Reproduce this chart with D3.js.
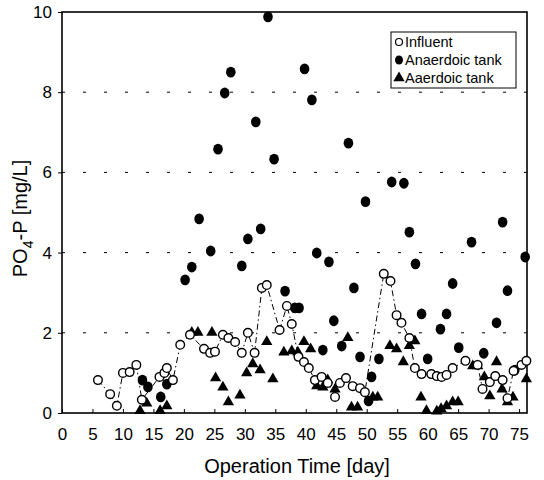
<!DOCTYPE html>
<html lang="en">
<head>
    <script src="https://d3js.org/d3.v7.min.js"></script>
    <style>
        body { margin: 0; background: #fff; }
        text { font-family: "Liberation Sans", Arial, sans-serif; fill: #000; }
    </style>
</head>
<body>
    <svg></svg>
    <script>
        // tick labels
        const xTicks = [0, 5, 10, 15, 20, 25, 30, 35, 40, 45, 50, 55, 60, 65, 70, 75]
        const yTicks = [0, 2, 4, 6, 8, 10]
        const gridLines = [2, 4, 6, 8]
        const legendLabels = ['Influent', 'Anaerdoic tank', 'Aaerdoic tank']

        // influent (open circles, dash-dot line) [day, mg/L]
        const influentDay = [5.9, 7.9, 9.0, 10.0, 11.1, 12.2, 13.1, 16.0, 16.8, 17.2, 18.2, 19.4, 21.0,
            23.3, 24.3, 25.1, 26.4, 27.3, 28.4, 29.5, 30.5, 31.6, 32.8, 33.6, 35.7, 36.9, 37.7,
            38.8, 39.7, 40.5, 41.5, 42.6, 43.6, 44.8, 45.6, 46.6, 47.7, 48.9, 49.7, 52.8, 53.9,
            54.9, 55.7, 57.0, 57.9, 59.0, 60.6, 61.5, 62.3, 63.1, 64.1, 66.2, 68.2, 69.0, 70.2,
            71.1, 72.3, 73.1, 74.1, 75.4, 76.2]
        const influentVal = [0.82, 0.47, 0.18, 1.00, 1.02, 1.20, 0.33, 0.90, 1.00, 1.12, 0.82, 1.70, 1.95,
            1.60, 1.50, 1.53, 1.95, 1.87, 1.77, 1.50, 2.00, 1.50, 3.12, 3.19, 2.07, 2.67, 2.22,
            1.40, 1.27, 1.12, 0.82, 0.90, 0.75, 0.40, 0.75, 0.87, 0.67, 0.62, 0.52, 3.47, 3.29,
            2.44, 2.25, 1.87, 1.12, 0.97, 0.97, 0.92, 0.90, 0.95, 1.12, 1.30, 1.20, 0.60, 0.77,
            0.92, 0.82, 0.37, 1.05, 1.20, 1.30]

        // anaerobic tank (filled circles)
        const anaerobicDay = [13.2, 14.1, 16.2, 17.2, 20.2, 21.3, 22.5, 24.4, 25.6, 26.7, 27.7, 29.5,
            30.5, 31.8, 32.6, 33.8, 34.8, 36.6, 38.2, 38.9, 39.8, 41.0, 41.8, 42.8, 43.8, 44.6,
            45.9, 47.0, 47.9, 48.9, 49.8, 50.3, 50.8, 52.0, 54.1, 56.1, 57.0, 58.0, 59.0, 60.0,
            62.1, 63.1, 64.1, 65.1, 67.2, 69.2, 71.3, 72.3, 73.1, 74.3, 76.0]
        const anaerobicVal = [0.82, 0.65, 0.40, 0.72, 3.32, 3.64, 4.84, 4.04, 6.58, 7.98, 8.50, 3.67,
            4.34, 7.26, 4.59, 9.88, 6.33, 3.04, 2.62, 2.62, 8.58, 7.81, 3.99, 1.57, 3.77, 2.30,
            1.67, 6.73, 3.12, 1.40, 5.27, 0.30, 0.90, 1.35, 5.76, 5.73, 4.51, 3.72, 2.47, 1.35,
            2.09, 2.47, 3.23, 1.63, 4.26, 1.49, 2.25, 4.76, 3.05, 1.07, 3.89]

        // aerobic tank (filled triangles)
        const aerobicDay = [12.8, 13.9, 16.1, 17.2, 21.3, 22.3, 24.6, 25.2, 26.4, 27.3, 29.2, 30.3,
            31.3, 32.5, 33.6, 34.6, 36.4, 37.7, 38.7, 39.7, 40.8, 41.8, 42.8, 43.6, 44.8, 46.9,
            47.5, 48.5, 51.0, 51.8, 53.8, 54.9, 56.0, 57.0, 57.9, 58.9, 59.8, 61.5, 62.2, 63.1,
            64.1, 65.0, 67.4, 68.2, 69.3, 70.2, 71.3, 72.2, 73.1, 74.0, 76.2]
        const aerobicVal = [0.03, 0.22, 0.03, 0.15, 1.98, 1.98, 1.98, 0.85, 0.62, 0.25, 0.42, 0.97,
            1.20, 1.05, 1.75, 0.82, 1.49, 1.52, 1.49, 1.75, 1.57, 0.65, 0.62, 0.80, 0.57, 1.85,
            0.12, 0.12, 0.37, 0.37, 1.65, 1.57, 1.25, 1.65, 1.77, 0.37, 0.03, 0.02, 0.08, 0.15,
            0.25, 0.25, 1.15, 1.15, 0.87, 0.40, 1.25, 0.57, 0.25, 0.37, 0.82]

        const W = 544, H = 480
        const margin = { left: 62, right: 17, top: 12, bottom: 67 }

        const svg = d3.select('svg')
            .attr('width', W)
            .attr('height', H)

        const x = d3.scaleLinear()
            .domain([0, 76.3])
            .range([margin.left, W - margin.right])
        const y = d3.scaleLinear()
            .domain([0, 10])
            .range([H - margin.bottom, margin.top])

        const zip = (a, b) => a.map((d, i) => [d, b[i]])
        const influent = zip(influentDay, influentVal)
        const anaerobic = zip(anaerobicDay, anaerobicVal)
        const aerobic = zip(aerobicDay, aerobicVal)

        // dashed grid
        svg.append('g')
            .selectAll('line')
            .data(gridLines)
            .enter()
            .append('line')
            .attr('x1', x(0))
            .attr('x2', x.range()[1])
            .attr('y1', d => y(d))
            .attr('y2', d => y(d))
            .attr('stroke', '#000')
            .attr('stroke-width', 1)
            .attr('stroke-dasharray', '3,18')

        // axes
        svg.append('g')
            .attr('transform', `translate(0,${y(0)})`)
            .call(d3.axisBottom(x).tickValues(xTicks).tickSize(-4).tickPadding(15))
            .call(g => g.select('.domain').remove())
            .call(g => g.selectAll('text').attr('font-size', 17))

        svg.append('g')
            .attr('transform', `translate(${x(0)},0)`)
            .call(d3.axisLeft(y).tickValues(yTicks).tickSize(4).tickPadding(6))
            .call(g => g.select('.domain').remove())
            .call(g => g.selectAll('text').attr('font-size', 17))

        // frame
        svg.append('rect')
            .attr('x', x(0))
            .attr('y', y(10))
            .attr('width', x.range()[1] - x(0))
            .attr('height', y(0) - y(10))
            .attr('fill', 'none')
            .attr('stroke', '#000')
            .attr('stroke-width', 1.6)

        // influent line
        const line = d3.line()
            .x(d => x(d[0]))
            .y(d => y(d[1]))
        svg.append('path')
            .datum(influent)
            .attr('d', line)
            .attr('fill', 'none')
            .attr('stroke', '#000')
            .attr('stroke-width', 1)
            .attr('stroke-dasharray', '6,3,1.5,3')

        const tri = d3.symbol().type(d3.symbolTriangle).size(55)

        svg.append('g')
            .selectAll('path')
            .data(aerobic)
            .enter()
            .append('path')
            .attr('d', tri)
            .attr('transform', d => `translate(${x(d[0])},${y(d[1]) - 1})`)
            .attr('fill', '#000')

        svg.append('g')
            .selectAll('ellipse')
            .data(anaerobic)
            .enter()
            .append('ellipse')
            .attr('cx', d => x(d[0]))
            .attr('cy', d => y(d[1]))
            .attr('rx', 4.8)
            .attr('ry', 5.4)
            .attr('fill', '#000')

        svg.append('g')
            .selectAll('circle')
            .data(influent)
            .enter()
            .append('circle')
            .attr('cx', d => x(d[0]))
            .attr('cy', d => y(d[1]))
            .attr('r', 4.3)
            .attr('fill', '#fff')
            .attr('stroke', '#000')
            .attr('stroke-width', 1.4)

        // legend
        const legend = svg.append('g').attr('transform', 'translate(391,32)')
        legend.append('rect')
            .attr('width', 125)
            .attr('height', 56)
            .attr('fill', '#fff')
            .attr('stroke', '#000')
            .attr('stroke-width', 1)
        const item = legend.selectAll('g')
            .data(legendLabels)
            .enter()
            .append('g')
            .attr('transform', (d, i) => `translate(0,${10 + i * 18})`)
        item.append('text')
            .attr('x', 14)
            .attr('y', 5)
            .attr('font-size', 14.5)
            .text(d => d)
        item.filter((d, i) => i === 0).append('circle')
            .attr('cx', 8).attr('r', 3.5)
            .attr('fill', '#fff').attr('stroke', '#000').attr('stroke-width', 1.2)
        item.filter((d, i) => i === 1).append('ellipse')
            .attr('cx', 8).attr('rx', 4).attr('ry', 4.6)
            .attr('fill', '#000')
        item.filter((d, i) => i === 2).append('path')
            .attr('d', tri)
            .attr('transform', 'translate(8,0)')
            .attr('fill', '#000')

        // axis titles
        svg.append('text')
            .attr('x', 297)
            .attr('y', 473)
            .attr('text-anchor', 'middle')
            .attr('font-size', 20)
            .text('Operation Time [day]')

        const yTitle = svg.append('text')
            .attr('transform', `translate(27,${(y(0) + y(10)) / 2 + 6}) rotate(-90)`)
            .attr('text-anchor', 'middle')
            .attr('font-size', 20)
        yTitle.append('tspan').text('PO')
        yTitle.append('tspan').attr('font-size', 14).attr('dy', 6).text('4')
        yTitle.append('tspan').attr('dy', -6).text('-P [mg/L]')
    </script>
</body>
</html>
